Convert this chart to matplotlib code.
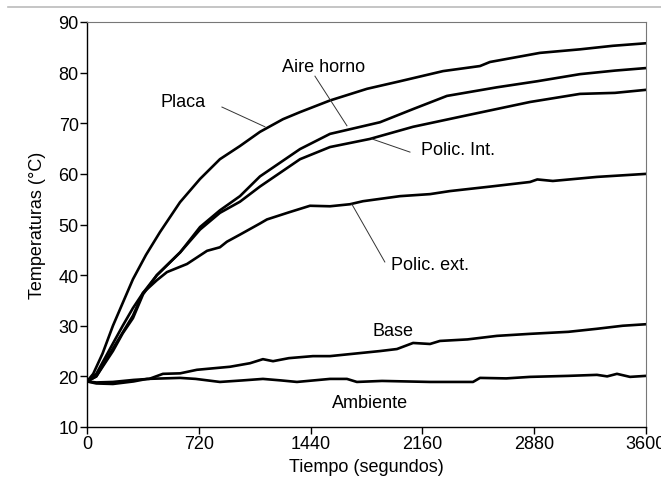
import matplotlib
matplotlib.use("Agg")
import matplotlib.pyplot as plt
from matplotlib.lines import Line2D

plt.rcParams['font.family'] = ['Liberation Sans', 'DejaVu Sans']

t_placa = [0, 40, 100, 167, 230, 296, 380, 470, 599, 728, 856, 985, 1114, 1262, 1372, 1565, 1803, 2016, 2293, 2531, 2595, 2917, 3175, 3387, 3600]
placa = [19, 20.5, 24.5, 30, 34.5, 39.2, 44, 48.5, 54.4, 59, 62.9, 65.5, 68.3, 70.8, 72.2, 74.5, 76.8, 78.3, 80.3, 81.3, 82.1, 83.9, 84.6, 85.3, 85.8]

t_aire = [0, 60, 167, 230, 296, 361, 450, 600, 728, 856, 985, 1114, 1372, 1565, 1887, 2100, 2318, 2640, 2900, 3175, 3400, 3600]
aire = [19, 20.5, 26.5, 30, 33.5, 36.5, 40, 44.5, 49.5, 52.8, 55.6, 59.5, 64.9, 67.9, 70.2, 72.8, 75.4, 77.1, 78.3, 79.7, 80.4, 80.9]

t_int = [0, 60, 167, 230, 296, 361, 450, 600, 728, 856, 985, 1114, 1372, 1565, 1822, 2100, 2421, 2853, 3175, 3400, 3600]
pol_int = [19, 20, 25, 28.5, 31.5, 36.2, 40, 44.5, 49, 52.3, 54.5, 57.5, 62.9, 65.3, 66.9, 69.3, 71.4, 74.2, 75.8, 76.0, 76.6]

t_ext = [0, 60, 167, 296, 361, 450, 515, 644, 773, 856, 901, 985, 1114, 1159, 1300, 1436, 1565, 1693, 1777, 2016, 2209, 2337, 2600, 2853, 2900, 3000, 3284, 3600]
pol_ext = [19, 20, 25.5, 32, 36.5, 39, 40.6, 42.2, 44.8, 45.5, 46.6, 48.0, 50.2, 51.0, 52.4, 53.7, 53.6, 54.0, 54.6, 55.6, 56.0, 56.6, 57.5, 58.4, 58.9, 58.6, 59.4, 60.0]

t_base = [0, 60, 167, 300, 400, 489, 600, 708, 921, 1050, 1133, 1198, 1300, 1455, 1565, 1887, 1996, 2100, 2209, 2273, 2450, 2640, 2853, 3100, 3284, 3450, 3600]
base = [19, 18.8, 18.9, 19.3, 19.5, 20.5, 20.6, 21.3, 21.9, 22.6, 23.4, 23.0, 23.6, 24.0, 24.0, 25.0, 25.4, 26.6, 26.4, 27.0, 27.3, 28.0, 28.4, 28.8, 29.4, 30.0, 30.3]

t_amb = [0, 60, 167, 300, 386, 599, 700, 856, 1000, 1133, 1250, 1352, 1565, 1674, 1738, 1900, 2209, 2486, 2531, 2700, 2853, 3100, 3284, 3350, 3413, 3497, 3600]
ambiente = [19, 18.6, 18.5, 19.0, 19.5, 19.7, 19.5, 18.9, 19.2, 19.5, 19.2, 18.9, 19.5, 19.5, 18.9, 19.1, 18.9, 18.9, 19.7, 19.6, 19.9, 20.1, 20.3, 20.0, 20.5, 19.9, 20.1]

x_ticks = [0, 720, 1440, 2160, 2880, 3600]
y_ticks = [10, 20, 30, 40, 50, 60, 70, 80, 90]

# label text position, leader start, leader end
labels = [
    ("Placa", (618, 74.2), (869, 73.2), (1146, 69.3)),
    ("Aire horno", (1526, 81.3), (1468, 79.3), (1674, 69.5)),
    ("Polic. Int.", (2389, 64.9), (2080, 64.3), (1835, 66.9)),
    ("Polic. ext.", (2209, 42.0), (1918, 42.6), (1706, 54.0)),
    ("Base", (1970, 29.0), None, None),
    ("Ambiente", (1822, 14.9), None, None),
]

FS = 13

fig = plt.figure(figsize=(6.61, 4.81), dpi=100)
ax = fig.add_axes([87/661, 1-428/481, (646-87)/661, (428-23)/481])

for tx, ty in [(t_placa, placa), (t_aire, aire), (t_int, pol_int), (t_ext, pol_ext), (t_base, base), (t_amb, ambiente)]:
    ax.plot(tx, ty, color='black', lw=1.9, solid_joinstyle='round')

for name, pos, p0, p1 in labels:
    ax.text(pos[0], pos[1], name, ha='center', va='center', fontsize=FS)
    if p0 is not None:
        ax.plot([p0[0], p1[0]], [p0[1], p1[1]], color='#333333', lw=0.7)

ax.set_xlim(0, 3600)
ax.set_ylim(10, 90)
ax.set_xticks(x_ticks)
ax.set_yticks(y_ticks)
ax.tick_params(direction='out', length=5, width=1, pad=1, labelsize=FS, colors='black')
ax.spines['top'].set_color('#777777')
ax.spines['right'].set_color('#777777')
for s in ['left', 'bottom']:
    ax.spines[s].set_color('black')
    ax.spines[s].set_linewidth(1)
ax.set_xlabel("Tiempo (segundos)", fontsize=FS, labelpad=4)
ax.set_ylabel("Temperaturas (°C)", fontsize=FS, labelpad=9)

fig.add_artist(Line2D([8/661, 1], [1-8/481, 1-8/481], color='#bbbbbb', lw=1.2))

fig.savefig("out.png", dpi=100)
